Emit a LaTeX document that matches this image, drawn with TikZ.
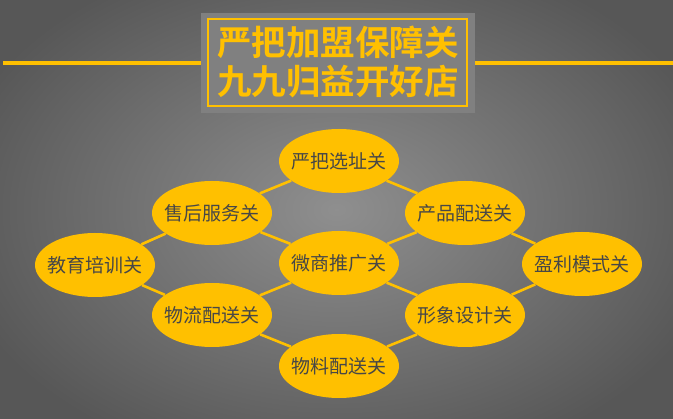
\documentclass[tikz,border=0pt]{standalone}
\usepackage{fontspec}
\newfontfamily\cjk{Noto Sans CJK SC}
\newfontfamily\cjkbold{Noto Sans CJK SC Bold}
\usetikzlibrary{shapes.geometric}
\definecolor{gold}{HTML}{FFC000}
\definecolor{txtgray}{HTML}{474747}
\definecolor{boxgray}{HTML}{808080}
\newcommand{\passtext}[1]{\makebox[0pt]{#1}}
\tikzset{
  pass/.style={ellipse, fill=gold, minimum width=120pt, minimum height=64pt, inner sep=0pt,
    font=\cjk\fontsize{19}{21}\selectfont, text=txtgray},
  link/.style={draw=gold, line width=2.6pt},
  rule/.style={draw=gold, line width=4pt}
}
\begin{document}
\begin{tikzpicture}[x=1pt,y=-1pt]
\useasboundingbox (0,0) rectangle (673,419);
\shade[inner color=black!44, outer color=black!66, shading=radial] (-60,-60) rectangle (733,479);
% title rules
\coordinate (lstart) at (3,63);
\coordinate (rend) at (673,63);
\node[minimum width=274pt, minimum height=100pt, fill=boxgray, inner sep=0pt] (tbox) at (338,63) {};
\draw[rule] (lstart) -- (tbox.west);
\draw[rule] (tbox.east) -- (rend);
\node[draw=gold, line width=1.6pt, minimum width=259pt, minimum height=87pt, inner sep=0pt] (tinner) at (337.5,62.5) {};
\node[text=gold, font=\cjkbold\fontsize{34.5}{39}\selectfont, align=center] (title) at (338,62) {严把加盟保障关\\九九归益开好店};
% nodes
\node[pass] (xz) at (339,161) {\passtext{严把选址关}};
\node[pass] (sh) at (212,213) {\passtext{售后服务关}};
\node[pass] (cp) at (465,213) {\passtext{产品配送关}};
\node[pass] (jy) at (95,265) {\passtext{教育培训关}};
\node[pass] (ws) at (339,263) {\passtext{微商推广关}};
\node[pass] (yl) at (582,264) {\passtext{盈利模式关}};
\node[pass] (wl) at (212,315) {\passtext{物流配送关}};
\node[pass] (xx) at (465,315) {\passtext{形象设计关}};
\node[pass] (wk) at (339,366) {\passtext{物料配送关}};
% links
\draw[link] (xz) -- (sh);
\draw[link] (xz) -- (cp);
\draw[link] (sh) -- (jy);
\draw[link] (sh) -- (ws);
\draw[link] (cp) -- (ws);
\draw[link] (cp) -- (yl);
\draw[link] (jy) -- (wl);
\draw[link] (ws) -- (wl);
\draw[link] (ws) -- (xx);
\draw[link] (yl) -- (xx);
\draw[link] (wl) -- (wk);
\draw[link] (xx) -- (wk);
\end{tikzpicture}
\end{document}
